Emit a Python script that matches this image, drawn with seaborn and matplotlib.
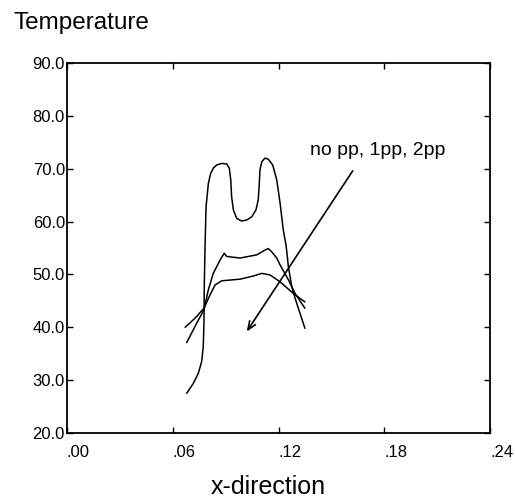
import matplotlib
matplotlib.use("Agg")
import matplotlib.pyplot as plt
import seaborn as sns
import pandas as pd

# ---- data ----
nopp_x = [0.0679, 0.0717, 0.0745, 0.0764, 0.0773, 0.0777, 0.0779, 0.0783, 0.0789, 0.0802,
          0.0815, 0.0830, 0.0849, 0.0878, 0.0906, 0.0921, 0.0929, 0.0934, 0.0944, 0.0963,
          0.0991, 0.1020, 0.1048, 0.1072, 0.1085, 0.1091, 0.1095, 0.1105, 0.1123, 0.1142,
          0.1167, 0.1190, 0.1209, 0.1227, 0.1243, 0.1256, 0.1275, 0.1294, 0.1350]
nopp_t = [27.5, 29.4, 31.3, 33.5, 36.3, 40.8, 48.0, 55.0, 62.8, 67.2,
          69.1, 70.1, 70.7, 71.0, 70.9, 70.1, 67.9, 64.7, 62.2, 60.6,
          60.1, 60.3, 60.9, 62.2, 64.1, 67.2, 69.8, 71.3, 72.0, 71.8,
          70.7, 67.9, 63.5, 58.4, 55.5, 51.5, 47.7, 45.5, 39.8]

pp1_x = [0.0679, 0.0707, 0.0736, 0.0777, 0.0802, 0.0830, 0.0868, 0.0892, 0.0906, 0.0982,
         0.1076, 0.1123, 0.1142, 0.1161, 0.1190, 0.1209, 0.1256, 0.1294, 0.1350]
pp1_t = [37.1, 38.9, 40.8, 43.3, 47.1, 50.2, 52.7, 54.0, 53.4, 53.1,
         53.7, 54.6, 54.9, 54.3, 53.1, 51.8, 49.0, 46.4, 43.6]

pp2_x = [0.0670, 0.0726, 0.0777, 0.0811, 0.0840, 0.0878, 0.0982, 0.1057, 0.1105, 0.1152,
         0.1209, 0.1284, 0.1350]
pp2_t = [40.0, 41.7, 43.6, 46.1, 48.0, 48.8, 49.1, 49.7, 50.2, 49.9,
         48.6, 46.4, 44.8]

x_ticks = [0.00, 0.06, 0.12, 0.18, 0.24]
x_ticklabels = [".00", ".06", ".12", ".18", ".24"]
y_ticks = [20, 30, 40, 50, 60, 70, 80, 90]
y_ticklabels = ["20.0", "30.0", "40.0", "50.0", "60.0", "70.0", "80.0", "90.0"]

annot_text = "no pp, 1pp, 2pp"
arrow_start = (0.1621, 69.6)
arrow_end = (0.1020, 39.2)
text_pos = (0.1379, 72.6)

# ---- plotting ----
sns.set_style("ticks")
plt.rcParams["font.family"] = ["Liberation Sans", "DejaVu Sans"]
plt.rcParams["text.color"] = "black"

fig = plt.figure(figsize=(5.15, 5.01), dpi=100)
ax = fig.add_axes([67 / 515, 68 / 501, 423 / 515, 370 / 501])

series = {"no pp": (nopp_x, nopp_t), "1pp": (pp1_x, pp1_t), "2pp": (pp2_x, pp2_t)}
for name, (xs, ts) in series.items():
    df = pd.DataFrame({"x": xs, "T": ts})
    sns.lineplot(data=df, x="x", y="T", ax=ax, color="black", linewidth=1.1,
                 sort=False, estimator=None, legend=False)

ax.set_xlim(0, 0.24)
ax.set_ylim(20, 90)
ax.set_xticks(x_ticks)
ax.set_xticklabels(x_ticklabels, ha="left")
ax.set_yticks(y_ticks)
ax.set_yticklabels(y_ticklabels)
ax.tick_params(axis="both", direction="in", length=4.5, width=1.0, colors="black",
               labelsize=12, top=True, right=True)
ax.tick_params(axis="x", pad=8.5)
ax.tick_params(axis="y", pad=1.5)
for s in ax.spines.values():
    s.set_linewidth(1.3)
    s.set_color("black")
ax.set_xlabel("")
ax.set_ylabel("")

ax.annotate("", xy=arrow_end, xytext=arrow_start,
            arrowprops=dict(arrowstyle="->,head_length=0.6,head_width=0.25",
                            color="black", lw=1.2, shrinkA=0, shrinkB=0))
ax.text(text_pos[0], text_pos[1], annot_text, fontsize=14, ha="left", va="baseline",
        color="black")

fig.text(13 / 515, 1 - 29 / 501, "Temperature", fontsize=17.5, ha="left",
         va="baseline", color="black")
fig.text(268 / 515, 7 / 501, "x-direction", fontsize=18, ha="center",
         va="baseline", color="black")

fig.savefig("out.png", dpi=100)
